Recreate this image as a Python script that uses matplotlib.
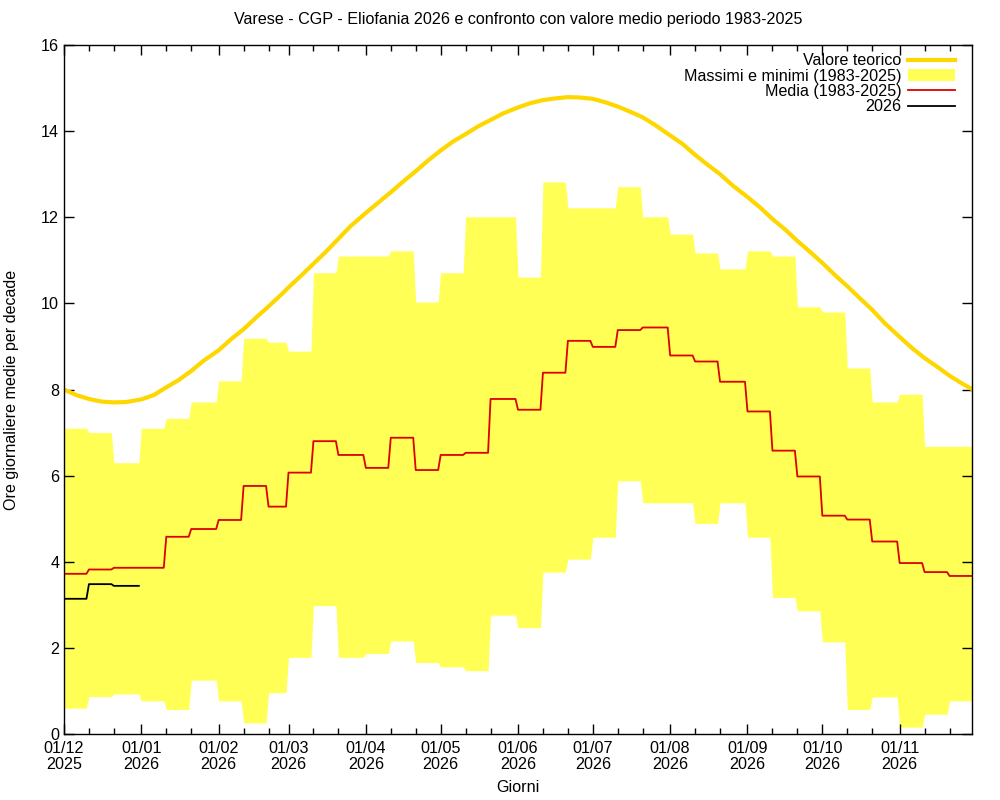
import numpy as np
import pandas as pd
import matplotlib
matplotlib.use('Agg')
import matplotlib.pyplot as plt
import matplotlib.dates as mdates

plt.rcParams['font.family'] = ['Liberation Sans', 'DejaVu Sans']

# giorni per decade (dic 2025 -> nov 2026)
giorni_decade = [10, 10, 11, 10, 10, 11, 10, 10, 8, 10, 10, 11,
                 10, 10, 10, 10, 10, 11, 10, 10, 10, 10, 10, 11,
                 10, 10, 11, 10, 10, 10, 10, 10, 11, 10, 10, 10]

# massimi e minimi per decade (1983-2025)
massimi = [7.1, 7.0, 6.3, 7.1, 7.33, 7.71, 8.2, 9.19, 9.1, 8.89, 10.71, 11.1,
           11.1, 11.22, 10.03, 10.71, 12.01, 12.01, 10.61, 12.82, 12.22, 12.22, 12.71, 12.01,
           11.61, 11.17, 10.8, 11.22, 11.1, 9.92, 9.8, 8.5, 7.71, 7.89, 6.68, 6.68]
minimi = [0.6, 0.87, 0.93, 0.77, 0.57, 1.25, 0.77, 0.26, 0.96, 1.78, 2.98, 1.78,
          1.87, 2.16, 1.66, 1.56, 1.47, 2.76, 2.47, 3.76, 4.06, 4.57, 5.88, 5.37,
          5.37, 4.89, 5.37, 4.57, 3.17, 2.86, 2.14, 0.57, 0.86, 0.16, 0.46, 0.77]

# media per decade (1983-2025)
media = [3.72, 3.82, 3.86, 3.86, 4.58, 4.76, 4.97, 5.76, 5.28, 6.07, 6.8, 6.48,
         6.18, 6.88, 6.13, 6.48, 6.53, 7.78, 7.53, 8.39, 9.13, 8.99, 9.38, 9.44,
         8.79, 8.65, 8.18, 7.49, 6.58, 5.98, 5.07, 4.98, 4.47, 3.97, 3.76, 3.67]

# anno in corso (solo decadi disponibili)
anno_2026 = [3.14, 3.48, 3.44]

# valore teorico letto ogni 5 giorni (giorni 1, 6, 11, 16, 21, 26 di ogni mese) + 30/11
giorni_teorico = [1, 6, 11, 16, 21, 26]
teorico = [8.0, 7.87, 7.78, 7.72, 7.7, 7.71,          # dic
           7.77, 7.87, 8.05, 8.22, 8.43, 8.67,        # gen
           8.91, 9.17, 9.4, 9.67, 9.93, 10.2,         # feb
           10.37, 10.64, 10.92, 11.2, 11.5, 11.8,     # mar
           12.1, 12.34, 12.58, 12.83, 13.07, 13.32,   # apr
           13.55, 13.76, 13.93, 14.11, 14.26, 14.41,  # mag
           14.55, 14.65, 14.72, 14.76, 14.79, 14.78,  # giu
           14.75, 14.67, 14.57, 14.45, 14.32, 14.14,  # lug
           13.9, 13.7, 13.45, 13.22, 13.0, 12.74,     # ago
           12.47, 12.23, 11.96, 11.72, 11.45, 11.2,   # set
           10.94, 10.66, 10.4, 10.12, 9.85, 9.54,     # ott
           9.22, 8.96, 8.73, 8.53, 8.32, 8.14,        # nov
           8.01]

giorni = pd.date_range('2025-12-01', '2026-11-30', freq='D')
mesi = pd.date_range('2025-12-01', '2026-11-01', freq='MS')
date_teorico = [m + pd.Timedelta(days=g - 1) for m in mesi for g in giorni_teorico]
date_teorico.append(giorni[-1])

max_g = np.repeat(massimi, giorni_decade)
min_g = np.repeat(minimi, giorni_decade)
media_g = np.repeat(media, giorni_decade)
n26 = sum(giorni_decade[:len(anno_2026)])
anno_g = np.repeat(anno_2026, giorni_decade[:len(anno_2026)])

fs = 11.6
fig = plt.figure(figsize=(10, 8), dpi=100)
ax = fig.add_axes([0.064, 0.0825, 0.908, 0.86125])

ax.fill_between(giorni, min_g, max_g, color='#ffff55', linewidth=0,
                label='Massimi e minimi (1983-2025)')
ax.plot(date_teorico, teorico, color='#ffd700', lw=3, label='Valore teorico')
ax.plot(giorni, media_g, color='#dd0000', lw=1.3, label='Media (1983-2025)')
ax.plot(giorni[:n26], anno_g, color='black', lw=1.3, label='2026')

ax.set_xlim(giorni[0], giorni[-1])
ax.set_ylim(0, 16)
ax.set_yticks(np.arange(0, 17, 2))

ax.set_xticks(mesi)
ax.set_xticklabels([d.strftime('%d/%m') + '\n' + d.strftime('%Y') for d in mesi],
                   linespacing=1.05)
ax.xaxis.set_minor_locator(mdates.DayLocator(bymonthday=[11, 21]))

ax.tick_params(which='both', direction='in', top=True, right=True, labelsize=fs, colors='black')
ax.tick_params(which='major', length=7, width=1)
ax.tick_params(which='minor', length=4, width=1)
ax.tick_params(axis='y', which='minor', left=False, right=False)
ax.tick_params(axis='x', pad=5)
for s in ax.spines.values():
    s.set_linewidth(1)

ax.set_title('Varese - CGP - Eliofania 2026 e confronto con valore medio periodo 1983-2025',
             fontsize=fs, pad=15)
ax.set_ylabel('Ore giornaliere medie per decade', fontsize=fs, labelpad=16)
ax.set_xlabel('Giorni', fontsize=fs, labelpad=6)

h, l = ax.get_legend_handles_labels()
ordine = [1, 0, 2, 3]
ax.legend([h[i] for i in ordine], [l[i] for i in ordine], loc='upper right',
          bbox_to_anchor=(0.9815, 0.988), frameon=False, markerfirst=False,
          fontsize=fs, handlelength=2.9, labelspacing=0.02, borderaxespad=0,
          borderpad=0, handletextpad=0.45)

fig.savefig('out.png', dpi=100)
